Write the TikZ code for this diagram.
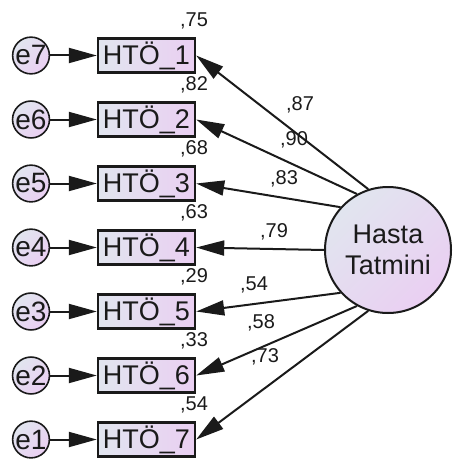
\documentclass[tikz,border=0pt]{standalone}
\usepackage{fontspec}
\setmainfont{Liberation Sans}
\usetikzlibrary{arrows.meta,shapes.geometric}
\definecolor{fillA}{HTML}{E1E5EF}
\definecolor{fillB}{HTML}{EACFF2}
\definecolor{ink}{HTML}{1A1A1A}
\begin{document}
\begin{tikzpicture}[x=1pt,y=-1pt,
  obs/.style={draw=ink,line width=2.4pt,left color=fillA,right color=fillB,
    minimum width=97pt,minimum height=34pt,inner sep=0pt,text=ink,
    font=\fontsize{27}{30}\selectfont},
  err/.style={circle,draw=ink,line width=1.6pt,top color=fillA,bottom color=fillB,
    shading angle=45,minimum size=32pt,inner sep=0pt,text=ink,
    font=\fontsize{28}{30}\selectfont},
  lat/.style={circle,draw=ink,line width=2pt,top color=fillA,bottom color=fillB,
    shading angle=45,minimum size=126pt,inner sep=0pt,text=ink,align=center,
    font=\fontsize{27}{31}\selectfont},
  num/.style={text=ink,inner sep=0pt,font=\fontsize{20}{22}\selectfont},
  link/.style={draw=ink,line width=2pt,-{Triangle[length=28pt,width=15pt]}}]
\useasboundingbox (0,0) rectangle (452,460);

% latent factor
\node[lat] (F) at (388,250) {Hasta\\Tatmini};

% indicators, error terms and squared multiple correlations
\foreach \i/\e/\y/\r in {1/7/55.5/75, 2/6/119.5/82, 3/5/183.5/68, 4/4/247.5/63,
                         5/3/311.5/29, 6/2/375.5/33, 7/1/439.5/54} {
  \node[obs] (H\i) at (146.5,\y) {HTÖ\_\i};
  \node[err] (E\i) at (31,\y) {e\e};
  \draw[link] (E\i) -- (H\i);
  \node[num] (R\i) at (194,\y-35) {,\r};
}

% factor loadings
\foreach \i/\a in {1/108, 2/119, 3/138, 4/180, 5/222, 6/241, 7/252}
  \draw[link] (F.\a) -- (H\i.east);

\node[num] (L1) at (300,105) {,87};
\node[num] (L2) at (294,140) {,90};
\node[num] (L3) at (284,179) {,83};
\node[num] (L4) at (274,232) {,79};
\node[num] (L5) at (254,285) {,54};
\node[num] (L6) at (261,323) {,58};
\node[num] (L7) at (265,357) {,73};
\end{tikzpicture}
\end{document}
